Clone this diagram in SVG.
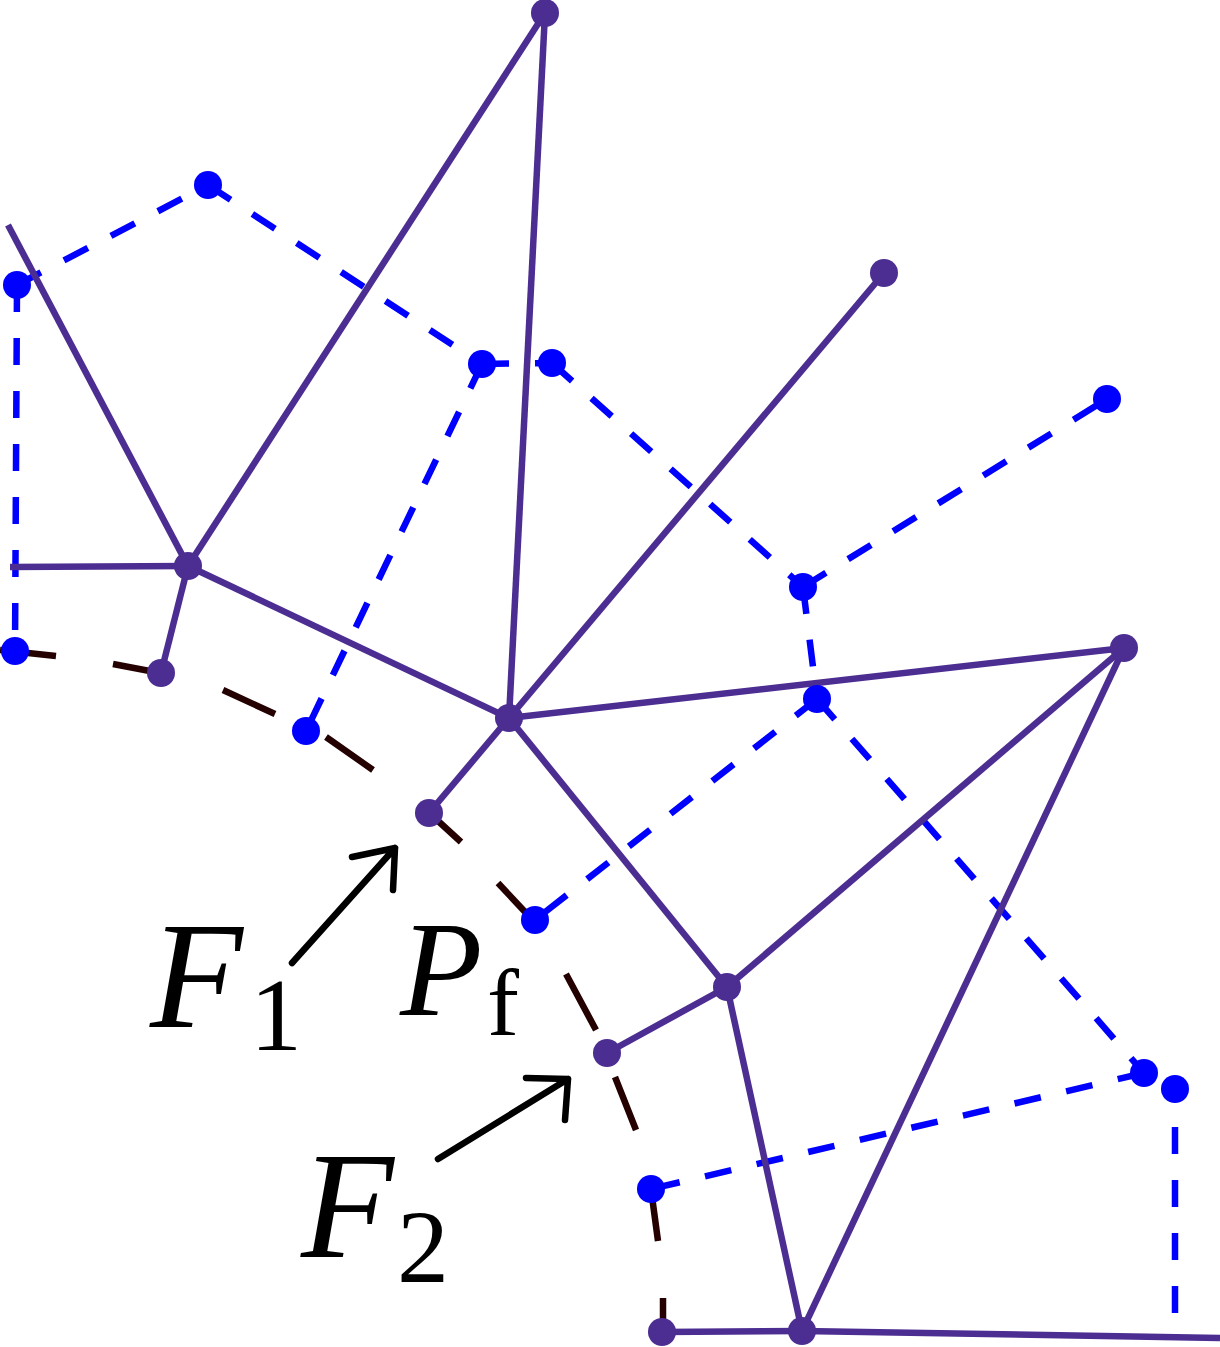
<svg xmlns="http://www.w3.org/2000/svg" width="1220" height="1347" viewBox="0 0 1220 1347">
<style>
.pl{stroke:#4c2d91;stroke-width:6.5;fill:none}
.bl{stroke:#0000ff;stroke-width:6.5;fill:none;stroke-dasharray:27 26}
.dk{stroke:#250000;stroke-width:6.5;fill:none}
.pn{fill:#4c2d91}
.bn{fill:#0000ff}
.ar{stroke:#000;stroke-width:6.5;fill:none;stroke-linecap:round;stroke-linejoin:round}
.lb{font-family:"Liberation Serif",serif;font-style:italic;fill:#000}
.sb{font-family:"Liberation Serif",serif;fill:#000}
</style>
<rect width="1220" height="1347" fill="#fff"/>
<g id="connectors">
<g id="blue-dashed">
<line class="bl" x1="17" y1="285" x2="208" y2="185"/>
<line class="bl" x1="208" y1="185" x2="482" y2="364"/>
<line class="bl" x1="17" y1="285" x2="15" y2="651"/>
<line class="bl" x1="482" y1="364" x2="552" y2="363"/>
<line class="bl" x1="482" y1="364" x2="306" y2="731"/>
<line class="bl" x1="552" y1="363" x2="803" y2="587"/>
<line class="bl" x1="803" y1="587" x2="1107" y2="399"/>
<line class="bl" x1="803" y1="587" x2="817" y2="699"/>
<line class="bl" x1="817" y1="699" x2="535" y2="920"/>
<line class="bl" x1="817" y1="699" x2="1144" y2="1073"/>
<line class="bl" x1="1144" y1="1073" x2="651" y2="1189"/>
<line class="bl" x1="1175" y1="1089" x2="1175" y2="1314" stroke-dashoffset="15"/>
</g>
<g id="purple-lines">
<line class="pl" x1="8" y1="225" x2="188" y2="566"/>
<line class="pl" x1="10" y1="567" x2="188" y2="566"/>
<line class="pl" x1="188" y1="566" x2="545" y2="13"/>
<line class="pl" x1="188" y1="566" x2="161" y2="673"/>
<line class="pl" x1="188" y1="566" x2="509" y2="718"/>
<line class="pl" x1="545" y1="13" x2="509" y2="718"/>
<line class="pl" x1="884" y1="273" x2="509" y2="718"/>
<line class="pl" x1="509" y1="718" x2="429" y2="813"/>
<line class="pl" x1="509" y1="718" x2="1124" y2="648"/>
<line class="pl" x1="509" y1="718" x2="727" y2="987"/>
<line class="pl" x1="1124" y1="648" x2="727" y2="987"/>
<line class="pl" x1="1124" y1="648" x2="802" y2="1331"/>
<line class="pl" x1="727" y1="987" x2="607" y2="1053"/>
<line class="pl" x1="727" y1="987" x2="802" y2="1331"/>
<line class="pl" x1="662" y1="1332" x2="802" y2="1331"/>
<line class="pl" x1="802" y1="1331" x2="1220" y2="1338"/>
</g>
<g id="dark-curve">
<path class="dk" d="M0 650 L56 656 M113 664 L155 672 M223 690 L275 714 M326 737 L373 770 M425 809 L461 842 M498 883 L527 914 M566 974 L596 1030 M615 1077 L636 1130 M651 1189 L658 1241 M663 1298 L663 1320"/>
</g>
<g id="arrows">
<path class="ar" d="M292 963 L395 848 M352 857 L395 848 L393 890"/>
<path class="ar" d="M438 1159 L568 1079 M526 1078 L568 1079 L565 1120"/>
</g>
</g>
<g id="purple-nodes">
<circle id="p1" class="pn" cx="545" cy="13" r="14"/>
<circle id="p2" class="pn" cx="188" cy="566" r="14"/>
<circle id="p3" class="pn" cx="161" cy="673" r="14"/>
<circle id="p4" class="pn" cx="509" cy="718" r="14"/>
<circle id="p5" class="pn" cx="429" cy="813" r="14"/>
<circle id="p6" class="pn" cx="884" cy="273" r="14"/>
<circle id="p7" class="pn" cx="1124" cy="648" r="14"/>
<circle id="p8" class="pn" cx="727" cy="987" r="14"/>
<circle id="p9" class="pn" cx="607" cy="1053" r="14"/>
<circle id="p10" class="pn" cx="662" cy="1332" r="14"/>
<circle id="p11" class="pn" cx="802" cy="1331" r="14"/>
</g>
<g id="blue-nodes">
<circle id="b1" class="bn" cx="17" cy="285" r="14"/>
<circle id="b2" class="bn" cx="208" cy="185" r="14"/>
<circle id="b3" class="bn" cx="482" cy="364" r="14"/>
<circle id="b4" class="bn" cx="552" cy="363" r="14"/>
<circle id="b5" class="bn" cx="1107" cy="399" r="14"/>
<circle id="b6" class="bn" cx="803" cy="587" r="14"/>
<circle id="b7" class="bn" cx="817" cy="699" r="14"/>
<circle id="b8" class="bn" cx="306" cy="731" r="14"/>
<circle id="b9" class="bn" cx="15" cy="651" r="14"/>
<circle id="b10" class="bn" cx="535" cy="920" r="14"/>
<circle id="b11" class="bn" cx="1144" cy="1073" r="14"/>
<circle id="b12" class="bn" cx="1175" cy="1089" r="14"/>
<circle id="b13" class="bn" cx="651" cy="1189" r="14"/>
</g>
<g id="labels">
<g id="label-f1"><text class="lb" x="150" y="1027" font-size="152">F</text><text class="sb" x="250" y="1050" font-size="104">1</text></g>
<g id="label-pf"><text class="lb" x="400" y="1015" font-size="135">P</text><text class="sb" x="487" y="1035" font-size="96">f</text></g>
<g id="label-f2"><text class="lb" x="301" y="1257" font-size="152">F</text><text class="sb" x="397" y="1282" font-size="104">2</text></g>
</g>
</svg>
